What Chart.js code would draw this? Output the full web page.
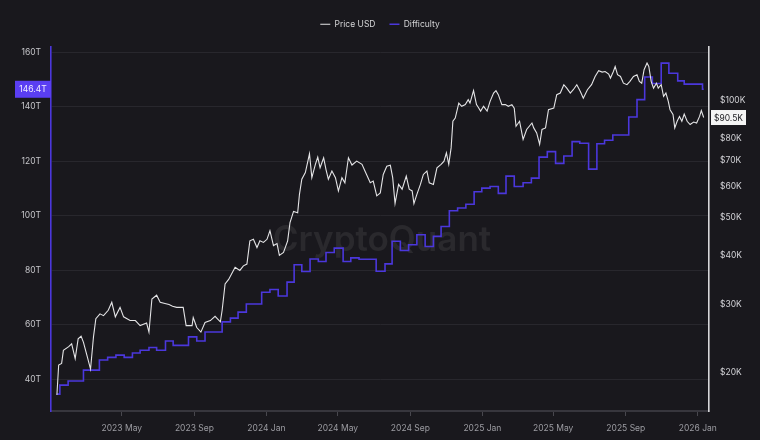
<!DOCTYPE html>
<html>
<head>
<meta charset="utf-8">
<script src="https://cdn.jsdelivr.net/npm/chart.js@4.4.1/dist/chart.umd.min.js"></script>
<style>
  html, body { margin: 0; padding: 0; background: #19181d; }
  #wrap { width: 760px; height: 440px; position: relative; }
</style>
</head>
<body>
<div id="wrap"><canvas id="chart"></canvas></div>
<script>
// days counted from 2023-01-01
const priceDays = [
  10, 13, 18, 21, 30, 35, 41, 46, 51, 55, 61, 67, 72, 76, 83, 89, 97, 103, 109, 117,
  123, 134, 143, 151, 162, 166, 171, 179, 185, 193, 200, 206, 213, 224, 229, 239, 241, 247, 254, 261,
  270, 278, 287, 290, 295, 301, 312, 320, 326, 332, 337, 343, 349, 354, 360, 366, 371, 377, 383, 387,
  394, 401, 405, 411, 418, 421, 425, 431, 438, 442, 448, 452, 456, 462, 466, 470, 476, 482, 487, 493,
  498, 504, 510, 518, 527, 532, 541, 546, 552, 558, 563, 569, 575, 579, 583, 589, 595, 602, 607, 612,
  615, 620, 626, 631, 637, 641, 648, 654, 661, 666, 670, 674, 678, 681, 685, 691, 696, 702, 707, 710,
  716, 721, 724, 728, 733, 739, 744, 750, 754, 758, 764, 770, 775, 781, 785, 788, 794, 800, 806, 815,
  818, 823, 828, 832, 838, 843, 852, 857, 863, 869, 874, 880, 885, 891, 897, 902, 909, 916, 922, 928,
  934, 939, 945, 948, 953, 956, 960, 965, 970, 976, 981, 987, 993, 997, 1001, 1005, 1010, 1013, 1017, 1021,
  1026, 1029, 1034, 1038, 1042, 1046, 1049, 1054, 1057, 1061, 1065, 1069, 1073, 1078, 1083, 1089, 1094, 1099, 1102, 1106
];
// price in thousand USD
const priceUsdK = [
  17.5, 20.9, 21.1, 22.8, 23.3, 23.7, 21.7, 24.4, 24.8, 23.9, 22.1, 20.4, 24.7, 27.5, 28.3, 28.0, 28.9, 30.3, 27.8, 29.4,
  27.8, 27.2, 27.2, 26.4, 26.8, 25.4, 30.9, 31.6, 30.3, 30.1, 29.9, 29.6, 29.4, 29.4, 26.4, 26.4, 27.7, 26.1, 25.4, 26.9,
  27.2, 27.9, 27.0, 28.9, 33.8, 34.7, 37.3, 36.6, 37.6, 38.0, 43.6, 44.0, 41.9, 43.6, 43.2, 44.0, 46.3, 42.4, 42.9, 40.0,
  40.7, 43.6, 48.6, 51.9, 51.5, 57.4, 62.8, 65.3, 73.0, 63.4, 68.6, 71.6, 67.2, 71.3, 66.5, 62.8, 65.9, 63.4, 58.6, 63.4,
  61.5, 71.3, 68.3, 69.9, 68.6, 65.9, 61.5, 62.1, 56.9, 57.9, 64.6, 67.8, 68.2, 63.4, 54.4, 60.9, 59.2, 64.0, 59.2, 58.6,
  54.4, 57.4, 60.9, 64.6, 65.9, 61.5, 60.9, 67.2, 68.6, 69.9, 73.4, 68.6, 75.6, 88.5, 90.2, 98.6, 96.7, 97.7, 100.6, 98.6,
  106.1, 97.7, 96.2, 94.0, 96.7, 94.0, 99.6, 104.6, 106.1, 103.6, 97.7, 97.7, 96.7, 97.7, 95.7, 85.9, 88.5, 79.5, 84.3, 87.6,
  85.1, 82.6, 77.2, 84.3, 85.1, 94.8, 95.7, 103.6, 104.6, 109.9, 107.7, 104.6, 106.7, 109.9, 105.6, 101.5, 106.7, 109.9, 115.4, 119.4,
  118.4, 118.8, 117.0, 114.3, 118.8, 122.4, 116.6, 115.4, 110.9, 109.9, 112.1, 115.4, 116.6, 112.1, 110.9, 120.1, 124.9, 122.4, 112.1, 107.7,
  110.9, 107.7, 109.9, 102.6, 104.6, 99.6, 94.8, 92.1, 85.1, 88.5, 91.1, 88.5, 92.4, 88.5, 86.8, 88.1, 87.6, 91.1, 94.3, 90.5
];

// difficulty adjustments (day, T)
const diffDays = [
  10, 15, 29, 55, 82, 96, 110, 124, 138, 151, 166, 179, 194, 207, 233, 247, 261, 290, 304, 317,
  331, 357, 371, 385, 400, 412, 425, 439, 453, 466, 480, 495, 508, 522, 551, 566, 578, 592, 606, 620,
  634, 648, 661, 675, 689, 703, 717, 730, 744, 758, 771, 785, 800, 814, 827, 841, 855, 869, 883, 896,
  911, 925, 938, 952, 979, 993, 1006, 1019, 1034, 1047, 1062, 1073, 1104, 1106
];
const diffT = [
  34.5, 37.8, 39.3, 43.3, 47.0, 48.0, 48.8, 48.0, 49.6, 50.6, 51.6, 50.6, 54.0, 52.4, 55.5, 54.0, 57.3, 61.0, 62.4, 64.6,
  67.6, 71.9, 72.9, 70.5, 75.6, 82.0, 79.5, 84.1, 83.2, 86.5, 88.1, 83.2, 84.5, 84.0, 79.6, 82.3, 90.6, 87.2, 89.3, 93.0,
  88.7, 92.4, 96.0, 101.8, 102.8, 104.2, 108.8, 110.1, 110.7, 108.2, 114.5, 110.7, 112.1, 113.8, 121.5, 123.5, 119.2, 121.9, 127.2, 126.6,
  117.1, 126.4, 127.7, 129.6, 136.2, 142.6, 150.9, 148.5, 156.0, 152.3, 149.5, 148.3, 146.4, 146.4
];

// axis ticks
const monthTickDays = [120, 243, 365, 486, 609, 731, 851, 974, 1096];
const monthTickLabels = ["2023 May", "2023 Sep", "2024 Jan", "2024 May", "2024 Sep", "2025 Jan", "2025 May", "2025 Sep", "2026 Jan"];
const diffTicks = [40, 60, 80, 100, 120, 140, 160];
const priceTicks = [20, 30, 40, 50, 60, 70, 80, 100];

const PRICE_COLOR = "#e4e4e6";
const DIFF_COLOR = "#4b37dc";
const FONT = "Inter, 'Noto Sans', sans-serif";
const FS = 8.5;

const pricePoints = priceDays.map((d, i) => ({ x: d, y: priceUsdK[i] }));
const diffPoints = diffDays.map((d, i) => ({ x: d, y: diffT[i] }));

// marca de agua
const watermark = {
  id: "watermark",
  beforeDatasetsDraw(chart) {
    const { ctx, chartArea } = chart;
    ctx.save();
    ctx.font = "600 35px " + FONT;
    ctx.fillStyle = "rgba(255,255,255,0.075)";
    ctx.textAlign = "center";
    ctx.textBaseline = "middle";
    ctx.fillText("CryptoQuant", (chartArea.left + chartArea.right) / 2 + 2, (chartArea.top + chartArea.bottom) / 2 + 12);
    ctx.restore();
  }
};

// etiquetas del ultimo valor
const lastValues = {
  id: "lastValues",
  afterDraw(chart) {
    const { ctx, chartArea, scales } = chart;
    const lastDiff = diffT[diffT.length - 1];
    const lastPrice = priceUsdK[priceUsdK.length - 1];
    ctx.save();
    ctx.font = FS + "px " + FONT;
    ctx.textBaseline = "middle";
    ctx.textAlign = "center";

    const yl = scales.yDiff.getPixelForValue(lastDiff);
    ctx.fillStyle = "#5a3ef2";
    ctx.fillRect(chartArea.left - 36, yl - 8.5, 36, 17);
    ctx.fillStyle = "#f0ecff";
    ctx.fillText(lastDiff.toFixed(1) + "T", chartArea.left - 18, yl + 0.5);

    const yr = scales.yPrice.getPixelForValue(lastPrice);
    ctx.fillStyle = "#f4f4f4";
    ctx.fillRect(chartArea.right + 2, yr - 7.5, 35, 15);
    ctx.fillStyle = "#222226";
    ctx.fillText("$" + lastPrice.toFixed(1) + "K", chartArea.right + 19.5, yr + 0.5);
    ctx.restore();
  }
};

new Chart(document.getElementById("chart"), {
  type: "line",
  data: {
    datasets: [
      {
        label: "Price USD",
        data: pricePoints,
        yAxisID: "yPrice",
        borderColor: PRICE_COLOR,
        backgroundColor: PRICE_COLOR,
        borderWidth: 1.1,
        pointRadius: 0,
        tension: 0
      },
      {
        label: "Difficulty",
        data: diffPoints,
        yAxisID: "yDiff",
        borderColor: DIFF_COLOR,
        backgroundColor: DIFF_COLOR,
        borderWidth: 1.6,
        pointRadius: 0,
        stepped: true
      }
    ]
  },
  options: {
    responsive: true,
    maintainAspectRatio: false,
    animation: false,
    layout: { padding: { top: 6, left: 0, right: 0, bottom: 0 } },
    plugins: {
      legend: {
        display: true,
        position: "top",
        labels: {
          color: "#d4d4d6",
          font: { family: FONT, size: FS },
          usePointStyle: true,
          pointStyle: "line",
          pointStyleWidth: 10,
          boxHeight: FS,
          padding: 14
        }
      },
      // separador entre leyenda y grafico
      title: {
        display: true,
        text: "",
        weight: 500,
        padding: 0,
        font: { size: 8, lineHeight: 1 }
      },
      tooltip: { enabled: false }
    },
    scales: {
      x: {
        type: "linear",
        min: 0,
        max: 1115,
        afterBuildTicks: (scale) => { scale.ticks = monthTickDays.map(v => ({ value: v })); },
        afterFit: (scale) => { scale.height = 29; },
        ticks: {
          autoSkip: false,
          maxRotation: 0,
          padding: 7,
          color: "#9c9ca2",
          font: { family: FONT, size: FS },
          callback: (v) => monthTickLabels[monthTickDays.indexOf(v)] || ""
        },
        grid: { drawOnChartArea: false, drawTicks: true, tickLength: 5, color: "#48474e" },
        border: { color: "#37363d", width: 2 }
      },
      yDiff: {
        type: "linear",
        position: "left",
        min: 28.3,
        max: 162.1,
        afterBuildTicks: (scale) => { scale.ticks = diffTicks.map(v => ({ value: v })); },
        afterFit: (scale) => { scale.width = 51; },
        ticks: {
          padding: 10,
          color: "#c6c6ca",
          font: { family: FONT, size: FS },
          callback: (v) => v + "T"
        },
        grid: { color: "#28272d", drawTicks: false },
        border: { color: DIFF_COLOR, width: 1.6 }
      },
      yPrice: {
        type: "logarithmic",
        position: "right",
        min: 15.92,
        max: 137.8,
        afterBuildTicks: (scale) => { scale.ticks = priceTicks.map(v => ({ value: v })); },
        afterFit: (scale) => { scale.width = 51; },
        ticks: {
          padding: 11,
          color: "#d2d2d6",
          font: { family: FONT, size: FS },
          callback: (v) => "$" + v + "K"
        },
        grid: { display: false, drawTicks: false },
        border: { color: "#d6d6d8", width: 1.6 }
      }
    }
  },
  plugins: [watermark, lastValues]
});
</script>
</body>
</html>
